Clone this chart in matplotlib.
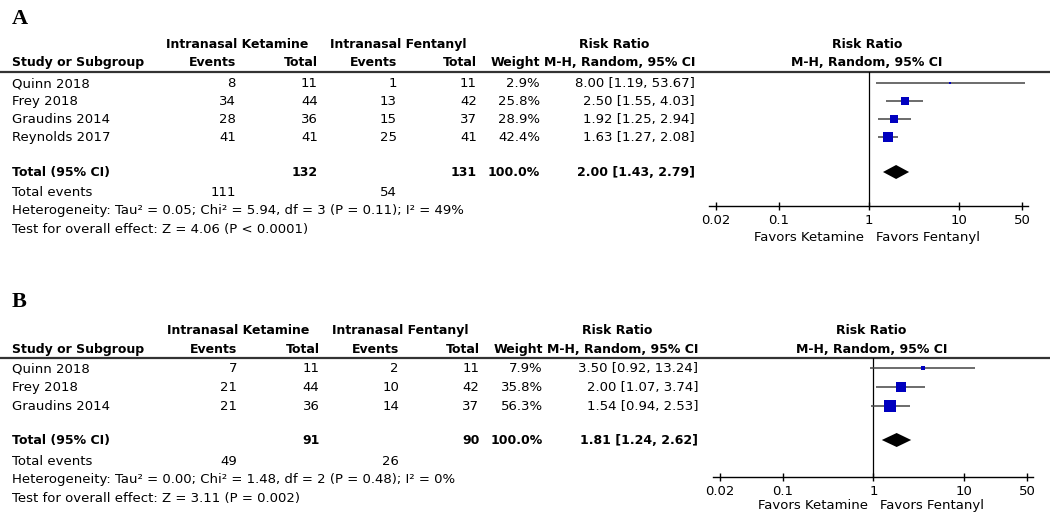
import matplotlib
matplotlib.use("Agg")
import matplotlib.pyplot as plt
import numpy as np

plt.rcParams['font.family'] = ['DejaVu Sans']

# ---------------- data ----------------
studies_A = ["Quinn 2018", "Frey 2018", "Graudins 2014", "Reynolds 2017"]
ket_events_A = [8, 34, 28, 41]
ket_total_A = [11, 44, 36, 41]
fen_events_A = [1, 13, 15, 25]
fen_total_A = [11, 42, 37, 41]
weight_A = [2.9, 25.8, 28.9, 42.4]
rr_A = [8.00, 2.50, 1.92, 1.63]
lo_A = [1.19, 1.55, 1.25, 1.27]
hi_A = [53.67, 4.03, 2.94, 2.08]
totals_A = [132, 131]          # ketamine total, fentanyl total
tot_events_A = [111, 54]
pooled_A = [2.00, 1.43, 2.79]  # RR, low, high
het_A = "Heterogeneity: Tau² = 0.05; Chi² = 5.94, df = 3 (P = 0.11); I² = 49%"
test_A = "Test for overall effect: Z = 4.06 (P < 0.0001)"

studies_B = ["Quinn 2018", "Frey 2018", "Graudins 2014"]
ket_events_B = [7, 21, 21]
ket_total_B = [11, 44, 36]
fen_events_B = [2, 10, 14]
fen_total_B = [11, 42, 37]
weight_B = [7.9, 35.8, 56.3]
rr_B = [3.50, 2.00, 1.54]
lo_B = [0.92, 1.07, 0.94]
hi_B = [13.24, 3.74, 2.53]
totals_B = [91, 90]
tot_events_B = [49, 26]
pooled_B = [1.81, 1.24, 2.62]
het_B = "Heterogeneity: Tau² = 0.00; Chi² = 1.48, df = 2 (P = 0.48); I² = 0%"
test_B = "Test for overall effect: Z = 3.11 (P = 0.002)"

tick_vals = [0.02, 0.1, 1, 10, 50]
tick_labels = ["0.02", "0.1", "1", "10", "50"]

# ---------------- figure ----------------
W, H = 1050, 512
fig = plt.figure(figsize=(10.5, 5.12), dpi=100)
ax = fig.add_axes([0, 0, 1, 1])
ax.set_xlim(0, W)
ax.set_ylim(H, 0)
ax.axis('off')

FS = 9.5   # normal text
FB = 9     # bold text
BLUE = '#0000BF'
CI_COL = '#444444'
BOFF = 4.2  # baseline offset from row centre (px)


def txt(x, y, s, bold=False, ha='left'):
    ax.text(x, y + BOFF, s, fontsize=FB if bold else FS,
            fontweight='bold' if bold else 'normal', ha=ha, va='baseline')


def draw_panel(label, lay, xs, studies, ke, kt, fe, ft, wt, rr, lo, hi,
               totals, tev, pooled, het, test):
    X = lambda x: x * xs
    # panel label
    ax.text(12, lay['label'], label, fontsize=16, fontweight='bold',
            family='Liberation Serif', va='baseline', ha='left')
    # header row 1
    h1 = lay['h1']
    txt(X(237), h1, "Intranasal Ketamine", True, 'center')
    txt(X(398), h1, "Intranasal Fentanyl", True, 'center')
    txt(X(614), h1, "Risk Ratio", True, 'center')
    txt(X(867), h1, "Risk Ratio", True, 'center')
    h2 = lay['h2']
    txt(12, h2, "Study or Subgroup", True)
    for xr, t in [(236, "Events"), (318, "Total"), (397, "Events"), (477, "Total"),
                  (540, "Weight"), (695, "M-H, Random, 95% CI")]:
        txt(X(xr), h2, t, True, 'right')
    txt(X(867), h2, "M-H, Random, 95% CI", True, 'center')
    # rule
    ax.plot([0, W], [lay['rule'], lay['rule']], color='#333333', lw=1.6, solid_capstyle='butt')

    rows_y = [lay['row0'] + i * lay['dy'] for i in range(len(studies))]
    for i, y in enumerate(rows_y):
        txt(12, y, studies[i])
        vals = [(236, str(ke[i])), (318, str(kt[i])), (397, str(fe[i])), (477, str(ft[i])),
                (540, f"{wt[i]:.1f}%"), (695, f"{rr[i]:.2f} [{lo[i]:.2f}, {hi[i]:.2f}]")]
        for xr, t in vals:
            txt(X(xr), y, t, False, 'right')
    yt = lay['total']
    txt(12, yt, "Total (95% CI)", True)
    for xr, t in [(318, str(totals[0])), (477, str(totals[1])), (540, "100.0%"),
                  (695, f"{pooled[0]:.2f} [{pooled[1]:.2f}, {pooled[2]:.2f}]")]:
        txt(X(xr), yt, t, True, 'right')
    ye = lay['events']
    txt(12, ye, "Total events")
    txt(X(236), ye, str(tev[0]), False, 'right')
    txt(X(397), ye, str(tev[1]), False, 'right')
    txt(12, lay['het'], het)
    txt(12, lay['test'], test)

    # forest plot axes
    x1 = X(869)
    dec = 90 * xs
    xl, xr_ = X(709), X(1028)
    ytop, ybot = lay['rule'], lay['axis']
    fa = fig.add_axes([xl / W, 1 - ybot / H, (xr_ - xl) / W, (ybot - ytop) / H])
    fa.set_xscale('log')
    fa.set_xlim(10 ** ((xl - x1) / dec), 10 ** ((xr_ - x1) / dec))
    fa.set_ylim(ybot, ytop)
    fa.patch.set_alpha(0)
    for s in ['top', 'left', 'right']:
        fa.spines[s].set_visible(False)
    fa.spines['bottom'].set_linewidth(1.0)
    fa.set_yticks([])
    fa.set_xticks(tick_vals)
    fa.set_xticklabels(tick_labels, fontsize=FS)
    fa.xaxis.set_minor_locator(matplotlib.ticker.NullLocator())
    fa.tick_params(axis='x', direction='inout', length=6, width=1.0, pad=3)
    fa.axvline(1, color='black', lw=0.9)
    for i, y in enumerate(rows_y):
        fa.plot([lo[i], hi[i]], [y, y], color=CI_COL, lw=1.1, solid_capstyle='butt', clip_on=False)
        side = 1.55 * np.sqrt(wt[i])
        fa.plot([rr[i]], [y], marker='s', ms=side * 0.72, color=BLUE, mec=BLUE, mew=0, ls='none')
    hh = 7
    fa.fill([pooled[1], pooled[0], pooled[2], pooled[0]], [yt, yt - hh, yt, yt + hh],
            color='black', lw=0)
    txt(x1 - 5, lay['fav'], "Favors Ketamine", False, 'right')
    txt(x1 + 7, lay['fav'], "Favors Fentanyl", False, 'left')


lay_A = dict(label=24, h1=44, h2=62, rule=72, row0=83, dy=18, total=172, events=192,
             het=210, test=229, axis=206, fav=237)
lay_B = dict(label=307, h1=330, h2=349, rule=358, row0=368, dy=19, total=440, events=461,
             het=479, test=498, axis=477, fav=505)

draw_panel("A", lay_A, 1.0, studies_A, ket_events_A, ket_total_A, fen_events_A, fen_total_A,
           weight_A, rr_A, lo_A, hi_A, totals_A, tot_events_A, pooled_A, het_A, test_A)
draw_panel("B", lay_B, 1.005, studies_B, ket_events_B, ket_total_B, fen_events_B, fen_total_B,
           weight_B, rr_B, lo_B, hi_B, totals_B, tot_events_B, pooled_B, het_B, test_B)

fig.savefig("out.png", dpi=100)
